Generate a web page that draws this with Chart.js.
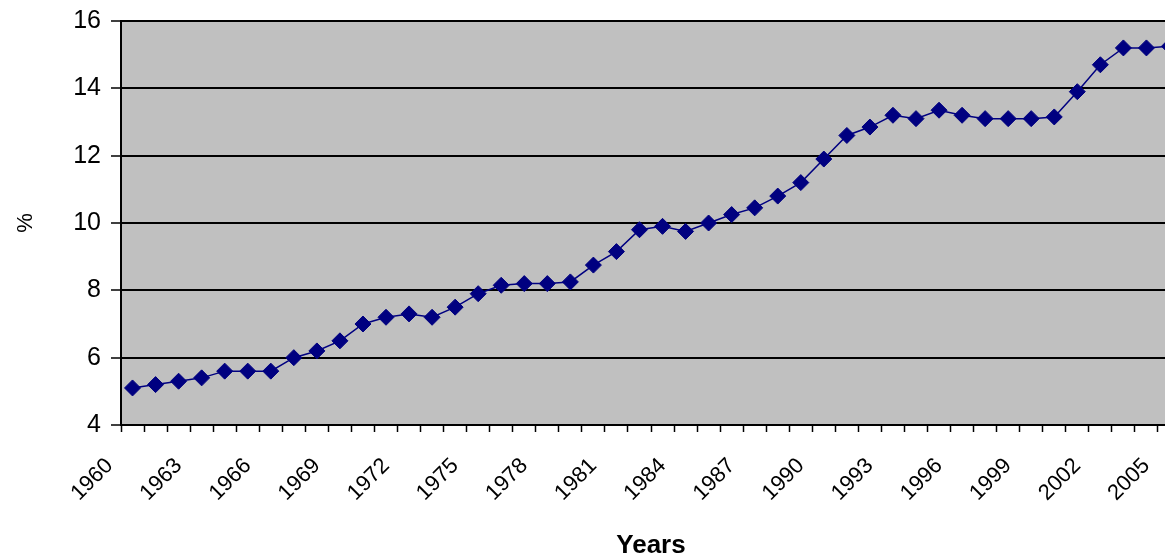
<!DOCTYPE html>
<html>
<head>
<meta charset="utf-8">
<title>Share by year</title>
<script src="https://cdn.jsdelivr.net/npm/chart.js@4/dist/chart.umd.min.js"></script>
<style>
  html, body { margin: 0; padding: 0; background: #ffffff; overflow: hidden; }
  #wrap { width: 1200px; height: 563px; }
  canvas { display: block; }
</style>
</head>
<body>
<div id="wrap"><canvas id="chart" width="1200" height="563"></canvas></div>
<script>
// Years on the category axis
const years = [
  1960, 1961, 1962, 1963, 1964, 1965, 1966, 1967, 1968, 1969,
  1970, 1971, 1972, 1973, 1974, 1975, 1976, 1977, 1978, 1979,
  1980, 1981, 1982, 1983, 1984, 1985, 1986, 1987, 1988, 1989,
  1990, 1991, 1992, 1993, 1994, 1995, 1996, 1997, 1998, 1999,
  2000, 2001, 2002, 2003, 2004, 2005
];

// Percentage for each year
const percent = [
  5.1, 5.2, 5.3, 5.4, 5.6, 5.6, 5.6, 6.0, 6.2, 6.5,
  7.0, 7.2, 7.3, 7.2, 7.5, 7.9, 8.15, 8.2, 8.2, 8.25,
  8.75, 9.15, 9.8, 9.9, 9.75, 10.0, 10.25, 10.45, 10.8, 11.2,
  11.9, 12.6, 12.85, 13.2, 13.1, 13.35, 13.2, 13.1, 13.1, 13.1,
  13.15, 13.9, 14.7, 15.2, 15.2, 15.25
];

// Value axis ticks
const yTicks = [4, 6, 8, 10, 12, 14, 16];
const yearLabelStep = 3; // every third year is labelled

const FONT = "'Liberation Sans', Arial, sans-serif";

// Grey plot-area fill
const plotFill = {
  id: 'plotFill',
  beforeDraw(chart) {
    const a = chart.chartArea;
    const ctx = chart.ctx;
    ctx.save();
    ctx.fillStyle = '#c0c0c0';
    ctx.fillRect(a.left, a.top, a.right - a.left, a.bottom - a.top);
    ctx.restore();
  }
};

// Fixed axis box sizes; no extra label overhang padding
function fixX(scale) {
  scale.height = 563 - 425;
  scale.paddingLeft = 0;
  scale.paddingRight = 0;
}
function fixY(scale) {
  scale.width = 121;
  scale.paddingTop = 0;
  scale.paddingBottom = 0;
}

new Chart(document.getElementById('chart'), {
  type: 'line',
  data: {
    labels: years.map(String),
    datasets: [{
      data: percent,
      borderColor: '#000080',
      borderWidth: 1.5,
      backgroundColor: '#000080',
      pointStyle: 'rectRot',
      pointRadius: 8,
      pointHoverRadius: 8,
      pointBackgroundColor: '#000080',
      pointBorderColor: '#000080',
      pointBorderWidth: 1,
      tension: 0,
      fill: false,
      clip: false
    }]
  },
  options: {
    responsive: false,
    animation: false,
    events: [],
    layout: { padding: { top: 21, right: 19, bottom: 0, left: 0 } },
    plugins: {
      legend: { display: false },
      tooltip: { enabled: false },
      title: { display: false }
    },
    scales: {
      x: {
        type: 'category',
        offset: true,
        afterFit: fixX,
        grid: {
          display: true,
          offset: true,
          drawOnChartArea: false,
          drawTicks: true,
          tickLength: 7,
          tickWidth: 1.5,
          tickColor: '#000000'
        },
        border: { display: true, color: '#000000', width: 2 },
        ticks: {
          autoSkip: false,
          maxRotation: 45,
          minRotation: 45,
          padding: 21,
          labelOffset: -23,
          color: '#000000',
          font: { family: FONT, size: 22 },
          callback(value, index) {
            return index % yearLabelStep === 0 ? years[index] : '';
          }
        },
        title: {
          display: true,
          text: 'Years',
          color: '#000000',
          font: { family: FONT, size: 26, weight: 'bold' },
          padding: { top: 0, bottom: 2 }
        }
      },
      y: {
        min: yTicks[0],
        max: yTicks[yTicks.length - 1],
        afterFit: fixY,
        afterBuildTicks(scale) { scale.ticks = yTicks.map(v => ({ value: v })); },
        grid: {
          display: true,
          color: '#000000',
          lineWidth: 2,
          drawTicks: true,
          tickLength: 10,
          tickWidth: 1.5,
          tickColor: '#000000'
        },
        border: { display: true, color: '#000000', width: 2 },
        ticks: {
          padding: 10,
          color: '#000000',
          font: { family: FONT, size: 25 }
        },
        title: {
          display: true,
          text: '%',
          color: '#000000',
          font: { family: FONT, size: 22 },
          padding: { top: 13, bottom: 0 }
        }
      }
    }
  },
  plugins: [plotFill]
});
</script>
</body>
</html>
